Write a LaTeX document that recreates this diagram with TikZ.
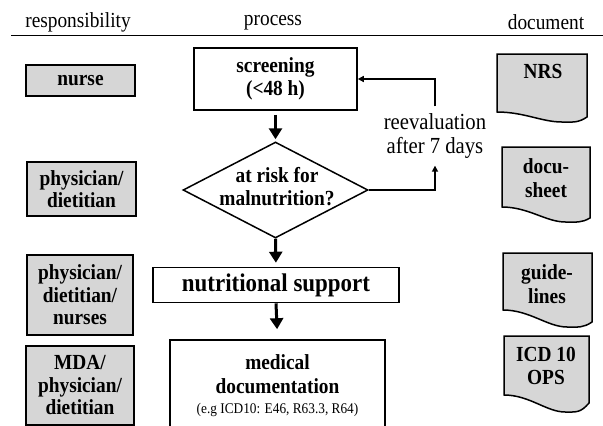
\documentclass[tikz,border=0pt]{standalone}
\usepackage{fontspec}
\setmainfont{Liberation Serif}[FakeStretch=0.9]
\usetikzlibrary{shapes.geometric,arrows.meta,calc}
\definecolor{boxgray}{RGB}{214,214,214}
\newcommand{\docshape}[6]{%
  \draw[docline] (#1,#2) -- (#3,#2) -- (#3,#6)
    .. controls ({#3-0.1*(#3-#1)},{#5+1}) and ({#1+0.85*(#3-#1)},#5) .. ({#1+0.72*(#3-#1)},#5)
    .. controls ({#1+0.5*(#3-#1)},#5) and ({#1+0.3*(#3-#1)},#4) .. (#1,#4) -- cycle;}
\begin{document}
\begin{tikzpicture}[x=1pt,y=-1pt,
  hdr/.style={font=\fontsize{21.5}{24}\selectfont, inner sep=0pt},
  resp/.style={draw, fill=boxgray, line width=1.5pt, minimum width=109pt, align=center,
    font=\bfseries\fontsize{21.5}{22.5}\selectfont, inner sep=0pt},
  proc/.style={draw, fill=white, line width=1.6pt, align=center,
    font=\bfseries\fontsize{21.5}{23}\selectfont, inner sep=0pt},
  txt/.style={align=center, font=\bfseries\fontsize{21.5}{23}\selectfont, inner sep=0pt},
  doctxt/.style={align=center, font=\bfseries\fontsize{21.5}{23.5}\selectfont, inner sep=0pt},
  docline/.style={draw, fill=boxgray, line width=1.5pt, line join=miter},
  reev/.style={align=center, font=\fontsize{23}{24}\selectfont, inner xsep=0pt, inner ysep=7pt},
  bigarrow/.style={line width=3pt, -{Triangle[width=13pt,length=11pt]}},
  thinarrow/.style={line width=1.5pt, -{Triangle[width=6pt,length=6pt]}}
]
\useasboundingbox (0,0) rectangle (603,426);

% headers
\node[hdr] (h1) at (78,22.5) {responsibility};
\node[hdr] (h2) at (273,22.5) {process};
\node[hdr] (h3) at (546,22.5) {document};
\coordinate (hl) at (11,35.5);
\coordinate (hr) at (603,35.5);
\draw[line width=1.5pt] (hl) -- (hr);

% responsibility
\node[resp, minimum height=31pt] (r1) at (80.5,80.5) {nurse};
\node[resp, minimum height=54pt] (r2) at (81.5,189) {physician/\\dietitian};
\node[resp, minimum height=80pt, minimum width=106pt] (r3) at (80,295) {physician/\\dietitian/\\nurses};
\node[resp, minimum height=79pt, minimum width=108pt] (r4) at (80,385.5) {MDA/\\physician/\\dietitian};

% process
\node[proc, minimum width=163pt, minimum height=62pt] (s) at (275.5,79) {screening\\(<48 h)};
\node[diamond, draw, fill=white, line width=1.5pt, minimum width=185pt, minimum height=96pt,
  inner sep=0pt, aspect=1.93] (d) at (275.5,190) {};
\node[txt] (dt) at (277,187) {at risk for\\malnutrition?};
\node[proc, minimum width=246pt, minimum height=35pt,
  font=\bfseries\fontsize{25.5}{27}\selectfont] (n) at (276,285) {nutritional support};
\node[proc, minimum width=215pt, minimum height=92pt] (m) at (277.5,386)
  {medical\\[1pt]documentation\\[-3pt]{\normalfont\fontsize{14.8}{16}\selectfont (e.g ICD10: E46, R63.3, R64)}};

\draw[bigarrow, shorten <=4pt, shorten >=2pt] (s.south) -- (d.north);
\draw[bigarrow, shorten >=4pt] (d.south) -- (n.north);
\draw[bigarrow, shorten >=10pt] (n.south) -- (m.north);

% reevaluation loop
\node[reev] (rv) at (435,136) {reevaluation\\after 7 days};
\draw[thinarrow] (d.east) -| (rv.south);
\draw[thinarrow] (rv.north) |- (s.east);

% documents
\docshape{497}{54}{587}{112}{122}{117}
\docshape{502}{147}{590}{207}{222}{218}
\docshape{503}{253}{592}{310}{327}{322}
\docshape{504}{336}{589}{395}{412}{403}
\node[doctxt] (t1) at (543,71) {NRS};
\node[doctxt] (t2) at (546,178) {docu-\\sheet};
\node[doctxt] (t3) at (547,284) {guide-\\lines};
\node[doctxt] (t4) at (546,366) {ICD 10\\OPS};
\end{tikzpicture}
\end{document}
